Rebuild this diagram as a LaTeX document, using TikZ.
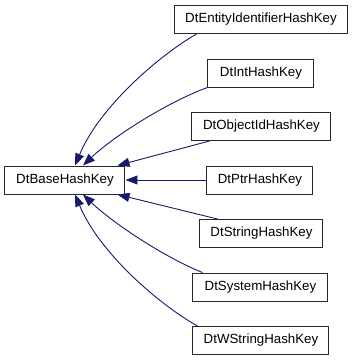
\documentclass[tikz,border=0pt]{standalone}
\usepackage{fontspec}
\setmainfont{Liberation Sans}
\usetikzlibrary{arrows.meta}
\definecolor{edgeblue}{RGB}{25,25,112}
\definecolor{boxline}{RGB}{40,40,40}
\begin{document}
\begin{tikzpicture}[x=1pt,y=-1pt,
  box/.style={draw=boxline,line width=1pt,fill=white,minimum height=28pt,inner sep=0pt,
    font=\fontsize{13.3}{16}\selectfont},
  edge/.style={draw=edgeblue,line width=0.9pt,-{Triangle[length=12pt,width=9pt]}}]
\fill[white] (0,0) rectangle (355,360);
\useasboundingbox (0,0) rectangle (355,360);
\node[box,minimum width=120pt] (base) at (65,180) {DtBaseHashKey};
\node[box,minimum width=173pt] (n1) at (261,19.5) {DtEntityIdentifierHashKey};
\node[box,minimum width=106pt] (n2) at (261,73) {DtIntHashKey};
\node[box,minimum width=139pt] (n3) at (261.5,126.5) {DtObjectIdHashKey};
\node[box,minimum width=106pt] (n4) at (260,180) {DtPtrHashKey};
\node[box,minimum width=123pt] (n5) at (261.5,233.5) {DtStringHashKey};
\node[box,minimum width=135pt] (n6) at (260.5,287) {DtSystemHashKey};
\node[box,minimum width=136pt] (n7) at (261,340.5) {DtWStringHashKey};
\draw[edge] ([xshift=22.5pt]n1.south west) .. controls (160,55) and (100,106) .. ([xshift=10pt]base.north);
\draw[edge] (n2.south west) .. controls (170,101) and (115,135) .. ([xshift=18pt]base.north);
\draw[edge] ([xshift=18pt]n3.south west) -- ([xshift=-8pt]base.north east);
\draw[edge] (n4.west) -- (base.east);
\draw[edge] ([xshift=18pt]n5.north west) -- ([xshift=-8pt]base.south east);
\draw[edge] ([xshift=10pt]n6.north west) .. controls (168,259) and (115,225) .. ([xshift=18pt]base.south);
\draw[edge] ([xshift=5pt]n7.north west) .. controls (160,305) and (100,254) .. ([xshift=10pt]base.south);
\end{tikzpicture}
\end{document}
